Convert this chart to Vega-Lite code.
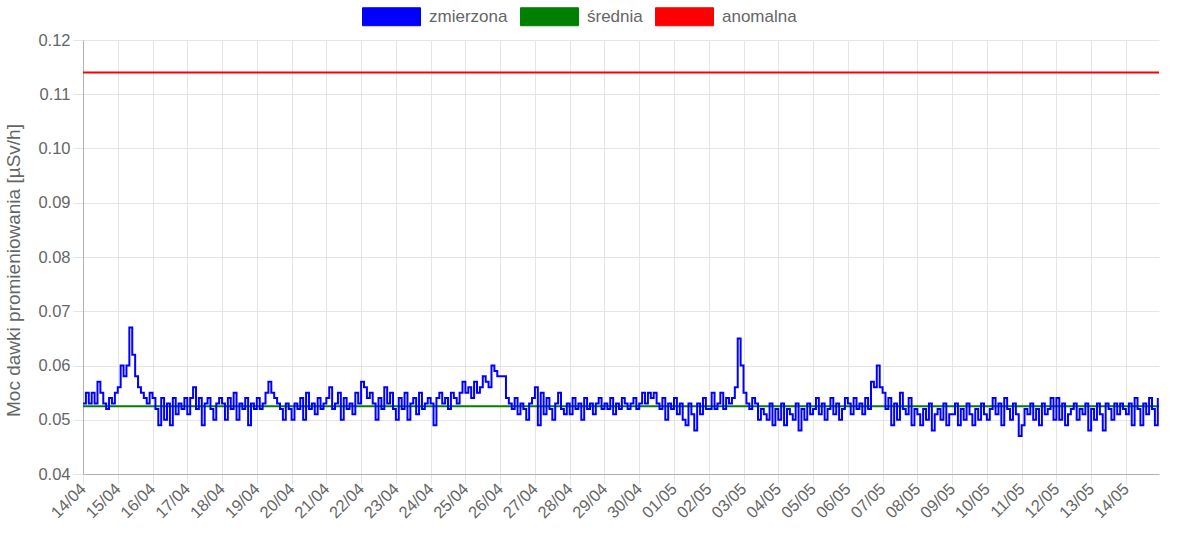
{
  "$schema": "https://vega.github.io/schema/vega-lite/v6.json",
  "width": 1076,
  "height": 434,
  "autosize": {"type": "none"},
  "padding": {"left": 83, "top": 40, "right": 27, "bottom": 64},
  "background": "#ffffff",
  "config": {
    "font": "Liberation Sans",
    "view": {"stroke": null},
    "axis": {
      "labelColor": "#666666",
      "labelFontSize": 16.5,
      "gridColor": "#e5e5e5",
      "tickColor": "#e5e5e5",
      "tickSize": 10,
      "domainColor": "#b0b0b0"
    }
  },
  "datasets": {
    "measured": [
      {"t":"2024-04-14T00:00:00Z","v":0.053},{"t":"2024-04-14T02:00:00Z","v":0.055},{"t":"2024-04-14T04:00:00Z","v":0.053},{"t":"2024-04-14T06:00:00Z","v":0.055},{"t":"2024-04-14T08:00:00Z","v":0.053},{"t":"2024-04-14T10:00:00Z","v":0.057},{"t":"2024-04-14T12:00:00Z","v":0.055},{"t":"2024-04-14T14:00:00Z","v":0.053},{"t":"2024-04-14T16:00:00Z","v":0.052},{"t":"2024-04-14T18:00:00Z","v":0.054},{"t":"2024-04-14T20:00:00Z","v":0.053},{"t":"2024-04-14T22:00:00Z","v":0.055},
      {"t":"2024-04-15T00:00:00Z","v":0.056},{"t":"2024-04-15T02:00:00Z","v":0.060},{"t":"2024-04-15T04:00:00Z","v":0.058},{"t":"2024-04-15T06:00:00Z","v":0.060},{"t":"2024-04-15T08:00:00Z","v":0.067},{"t":"2024-04-15T10:00:00Z","v":0.062},{"t":"2024-04-15T12:00:00Z","v":0.058},{"t":"2024-04-15T14:00:00Z","v":0.056},{"t":"2024-04-15T16:00:00Z","v":0.055},{"t":"2024-04-15T18:00:00Z","v":0.054},{"t":"2024-04-15T20:00:00Z","v":0.053},{"t":"2024-04-15T22:00:00Z","v":0.055},
      {"t":"2024-04-16T00:00:00Z","v":0.054},{"t":"2024-04-16T02:00:00Z","v":0.052},{"t":"2024-04-16T04:00:00Z","v":0.049},{"t":"2024-04-16T06:00:00Z","v":0.054},{"t":"2024-04-16T08:00:00Z","v":0.050},{"t":"2024-04-16T10:00:00Z","v":0.053},{"t":"2024-04-16T12:00:00Z","v":0.049},{"t":"2024-04-16T14:00:00Z","v":0.054},{"t":"2024-04-16T16:00:00Z","v":0.051},{"t":"2024-04-16T18:00:00Z","v":0.053},{"t":"2024-04-16T20:00:00Z","v":0.052},{"t":"2024-04-16T22:00:00Z","v":0.054},
      {"t":"2024-04-17T00:00:00Z","v":0.051},{"t":"2024-04-17T02:00:00Z","v":0.054},{"t":"2024-04-17T04:00:00Z","v":0.056},{"t":"2024-04-17T06:00:00Z","v":0.052},{"t":"2024-04-17T08:00:00Z","v":0.054},{"t":"2024-04-17T10:00:00Z","v":0.049},{"t":"2024-04-17T12:00:00Z","v":0.053},{"t":"2024-04-17T14:00:00Z","v":0.054},{"t":"2024-04-17T16:00:00Z","v":0.052},{"t":"2024-04-17T18:00:00Z","v":0.050},{"t":"2024-04-17T20:00:00Z","v":0.053},{"t":"2024-04-17T22:00:00Z","v":0.054},
      {"t":"2024-04-18T00:00:00Z","v":0.053},{"t":"2024-04-18T02:00:00Z","v":0.050},{"t":"2024-04-18T04:00:00Z","v":0.054},{"t":"2024-04-18T06:00:00Z","v":0.052},{"t":"2024-04-18T08:00:00Z","v":0.055},{"t":"2024-04-18T10:00:00Z","v":0.050},{"t":"2024-04-18T12:00:00Z","v":0.053},{"t":"2024-04-18T14:00:00Z","v":0.052},{"t":"2024-04-18T16:00:00Z","v":0.054},{"t":"2024-04-18T18:00:00Z","v":0.049},{"t":"2024-04-18T20:00:00Z","v":0.053},{"t":"2024-04-18T22:00:00Z","v":0.052},
      {"t":"2024-04-19T00:00:00Z","v":0.054},{"t":"2024-04-19T02:00:00Z","v":0.052},{"t":"2024-04-19T04:00:00Z","v":0.053},{"t":"2024-04-19T06:00:00Z","v":0.055},{"t":"2024-04-19T08:00:00Z","v":0.057},{"t":"2024-04-19T10:00:00Z","v":0.055},{"t":"2024-04-19T12:00:00Z","v":0.054},{"t":"2024-04-19T14:00:00Z","v":0.053},{"t":"2024-04-19T16:00:00Z","v":0.052},{"t":"2024-04-19T18:00:00Z","v":0.050},{"t":"2024-04-19T20:00:00Z","v":0.053},{"t":"2024-04-19T22:00:00Z","v":0.052},
      {"t":"2024-04-20T00:00:00Z","v":0.050},{"t":"2024-04-20T02:00:00Z","v":0.053},{"t":"2024-04-20T04:00:00Z","v":0.052},{"t":"2024-04-20T06:00:00Z","v":0.054},{"t":"2024-04-20T08:00:00Z","v":0.050},{"t":"2024-04-20T10:00:00Z","v":0.055},{"t":"2024-04-20T12:00:00Z","v":0.052},{"t":"2024-04-20T14:00:00Z","v":0.053},{"t":"2024-04-20T16:00:00Z","v":0.051},{"t":"2024-04-20T18:00:00Z","v":0.054},{"t":"2024-04-20T20:00:00Z","v":0.052},{"t":"2024-04-20T22:00:00Z","v":0.053},
      {"t":"2024-04-21T00:00:00Z","v":0.054},{"t":"2024-04-21T02:00:00Z","v":0.056},{"t":"2024-04-21T04:00:00Z","v":0.052},{"t":"2024-04-21T06:00:00Z","v":0.053},{"t":"2024-04-21T08:00:00Z","v":0.055},{"t":"2024-04-21T10:00:00Z","v":0.050},{"t":"2024-04-21T12:00:00Z","v":0.054},{"t":"2024-04-21T14:00:00Z","v":0.052},{"t":"2024-04-21T16:00:00Z","v":0.053},{"t":"2024-04-21T18:00:00Z","v":0.051},{"t":"2024-04-21T20:00:00Z","v":0.055},{"t":"2024-04-21T22:00:00Z","v":0.053},
      {"t":"2024-04-22T00:00:00Z","v":0.057},{"t":"2024-04-22T02:00:00Z","v":0.056},{"t":"2024-04-22T04:00:00Z","v":0.054},{"t":"2024-04-22T06:00:00Z","v":0.055},{"t":"2024-04-22T08:00:00Z","v":0.053},{"t":"2024-04-22T10:00:00Z","v":0.050},{"t":"2024-04-22T12:00:00Z","v":0.054},{"t":"2024-04-22T14:00:00Z","v":0.052},{"t":"2024-04-22T16:00:00Z","v":0.056},{"t":"2024-04-22T18:00:00Z","v":0.053},{"t":"2024-04-22T20:00:00Z","v":0.055},{"t":"2024-04-22T22:00:00Z","v":0.052},
      {"t":"2024-04-23T00:00:00Z","v":0.050},{"t":"2024-04-23T02:00:00Z","v":0.054},{"t":"2024-04-23T04:00:00Z","v":0.052},{"t":"2024-04-23T06:00:00Z","v":0.055},{"t":"2024-04-23T08:00:00Z","v":0.050},{"t":"2024-04-23T10:00:00Z","v":0.053},{"t":"2024-04-23T12:00:00Z","v":0.054},{"t":"2024-04-23T14:00:00Z","v":0.051},{"t":"2024-04-23T16:00:00Z","v":0.055},{"t":"2024-04-23T18:00:00Z","v":0.052},{"t":"2024-04-23T20:00:00Z","v":0.053},{"t":"2024-04-23T22:00:00Z","v":0.054},
      {"t":"2024-04-24T00:00:00Z","v":0.053},{"t":"2024-04-24T02:00:00Z","v":0.049},{"t":"2024-04-24T04:00:00Z","v":0.054},{"t":"2024-04-24T06:00:00Z","v":0.055},{"t":"2024-04-24T08:00:00Z","v":0.053},{"t":"2024-04-24T10:00:00Z","v":0.054},{"t":"2024-04-24T12:00:00Z","v":0.052},{"t":"2024-04-24T14:00:00Z","v":0.055},{"t":"2024-04-24T16:00:00Z","v":0.054},{"t":"2024-04-24T18:00:00Z","v":0.053},{"t":"2024-04-24T20:00:00Z","v":0.055},{"t":"2024-04-24T22:00:00Z","v":0.057},
      {"t":"2024-04-25T00:00:00Z","v":0.055},{"t":"2024-04-25T02:00:00Z","v":0.056},{"t":"2024-04-25T04:00:00Z","v":0.054},{"t":"2024-04-25T06:00:00Z","v":0.057},{"t":"2024-04-25T08:00:00Z","v":0.055},{"t":"2024-04-25T10:00:00Z","v":0.056},{"t":"2024-04-25T12:00:00Z","v":0.058},{"t":"2024-04-25T14:00:00Z","v":0.057},{"t":"2024-04-25T16:00:00Z","v":0.056},{"t":"2024-04-25T18:00:00Z","v":0.060},{"t":"2024-04-25T20:00:00Z","v":0.059},{"t":"2024-04-25T22:00:00Z","v":0.058},
      {"t":"2024-04-26T00:00:00Z","v":0.058},{"t":"2024-04-26T02:00:00Z","v":0.058},{"t":"2024-04-26T04:00:00Z","v":0.054},{"t":"2024-04-26T06:00:00Z","v":0.053},{"t":"2024-04-26T08:00:00Z","v":0.052},{"t":"2024-04-26T10:00:00Z","v":0.054},{"t":"2024-04-26T12:00:00Z","v":0.051},{"t":"2024-04-26T14:00:00Z","v":0.053},{"t":"2024-04-26T16:00:00Z","v":0.052},{"t":"2024-04-26T18:00:00Z","v":0.050},{"t":"2024-04-26T20:00:00Z","v":0.053},{"t":"2024-04-26T22:00:00Z","v":0.054},
      {"t":"2024-04-27T00:00:00Z","v":0.056},{"t":"2024-04-27T02:00:00Z","v":0.049},{"t":"2024-04-27T04:00:00Z","v":0.055},{"t":"2024-04-27T06:00:00Z","v":0.051},{"t":"2024-04-27T08:00:00Z","v":0.054},{"t":"2024-04-27T10:00:00Z","v":0.052},{"t":"2024-04-27T12:00:00Z","v":0.050},{"t":"2024-04-27T14:00:00Z","v":0.053},{"t":"2024-04-27T16:00:00Z","v":0.055},{"t":"2024-04-27T18:00:00Z","v":0.052},{"t":"2024-04-27T20:00:00Z","v":0.051},{"t":"2024-04-27T22:00:00Z","v":0.053},
      {"t":"2024-04-28T00:00:00Z","v":0.051},{"t":"2024-04-28T02:00:00Z","v":0.054},{"t":"2024-04-28T04:00:00Z","v":0.052},{"t":"2024-04-28T06:00:00Z","v":0.053},{"t":"2024-04-28T08:00:00Z","v":0.050},{"t":"2024-04-28T10:00:00Z","v":0.054},{"t":"2024-04-28T12:00:00Z","v":0.052},{"t":"2024-04-28T14:00:00Z","v":0.053},{"t":"2024-04-28T16:00:00Z","v":0.051},{"t":"2024-04-28T18:00:00Z","v":0.053},{"t":"2024-04-28T20:00:00Z","v":0.054},{"t":"2024-04-28T22:00:00Z","v":0.052},
      {"t":"2024-04-29T00:00:00Z","v":0.053},{"t":"2024-04-29T02:00:00Z","v":0.052},{"t":"2024-04-29T04:00:00Z","v":0.054},{"t":"2024-04-29T06:00:00Z","v":0.051},{"t":"2024-04-29T08:00:00Z","v":0.053},{"t":"2024-04-29T10:00:00Z","v":0.052},{"t":"2024-04-29T12:00:00Z","v":0.054},{"t":"2024-04-29T14:00:00Z","v":0.053},{"t":"2024-04-29T16:00:00Z","v":0.052},{"t":"2024-04-29T18:00:00Z","v":0.053},{"t":"2024-04-29T20:00:00Z","v":0.054},{"t":"2024-04-29T22:00:00Z","v":0.052},
      {"t":"2024-04-30T00:00:00Z","v":0.053},{"t":"2024-04-30T02:00:00Z","v":0.055},{"t":"2024-04-30T04:00:00Z","v":0.053},{"t":"2024-04-30T06:00:00Z","v":0.055},{"t":"2024-04-30T08:00:00Z","v":0.054},{"t":"2024-04-30T10:00:00Z","v":0.055},{"t":"2024-04-30T12:00:00Z","v":0.053},{"t":"2024-04-30T14:00:00Z","v":0.052},{"t":"2024-04-30T16:00:00Z","v":0.054},{"t":"2024-04-30T18:00:00Z","v":0.050},{"t":"2024-04-30T20:00:00Z","v":0.053},{"t":"2024-04-30T22:00:00Z","v":0.052},
      {"t":"2024-05-01T00:00:00Z","v":0.054},{"t":"2024-05-01T02:00:00Z","v":0.051},{"t":"2024-05-01T04:00:00Z","v":0.053},{"t":"2024-05-01T06:00:00Z","v":0.050},{"t":"2024-05-01T08:00:00Z","v":0.049},{"t":"2024-05-01T10:00:00Z","v":0.053},{"t":"2024-05-01T12:00:00Z","v":0.051},{"t":"2024-05-01T14:00:00Z","v":0.048},{"t":"2024-05-01T16:00:00Z","v":0.053},{"t":"2024-05-01T18:00:00Z","v":0.051},{"t":"2024-05-01T20:00:00Z","v":0.054},{"t":"2024-05-01T22:00:00Z","v":0.052},
      {"t":"2024-05-02T00:00:00Z","v":0.052},{"t":"2024-05-02T02:00:00Z","v":0.055},{"t":"2024-05-02T04:00:00Z","v":0.052},{"t":"2024-05-02T06:00:00Z","v":0.053},{"t":"2024-05-02T08:00:00Z","v":0.055},{"t":"2024-05-02T10:00:00Z","v":0.052},{"t":"2024-05-02T12:00:00Z","v":0.054},{"t":"2024-05-02T14:00:00Z","v":0.053},{"t":"2024-05-02T16:00:00Z","v":0.054},{"t":"2024-05-02T18:00:00Z","v":0.056},{"t":"2024-05-02T20:00:00Z","v":0.065},{"t":"2024-05-02T22:00:00Z","v":0.060},
      {"t":"2024-05-03T00:00:00Z","v":0.055},{"t":"2024-05-03T02:00:00Z","v":0.053},{"t":"2024-05-03T04:00:00Z","v":0.052},{"t":"2024-05-03T06:00:00Z","v":0.054},{"t":"2024-05-03T08:00:00Z","v":0.053},{"t":"2024-05-03T10:00:00Z","v":0.050},{"t":"2024-05-03T12:00:00Z","v":0.052},{"t":"2024-05-03T14:00:00Z","v":0.051},{"t":"2024-05-03T16:00:00Z","v":0.050},{"t":"2024-05-03T18:00:00Z","v":0.053},{"t":"2024-05-03T20:00:00Z","v":0.049},{"t":"2024-05-03T22:00:00Z","v":0.052},
      {"t":"2024-05-04T00:00:00Z","v":0.050},{"t":"2024-05-04T02:00:00Z","v":0.053},{"t":"2024-05-04T04:00:00Z","v":0.049},{"t":"2024-05-04T06:00:00Z","v":0.052},{"t":"2024-05-04T08:00:00Z","v":0.051},{"t":"2024-05-04T10:00:00Z","v":0.050},{"t":"2024-05-04T12:00:00Z","v":0.053},{"t":"2024-05-04T14:00:00Z","v":0.048},{"t":"2024-05-04T16:00:00Z","v":0.052},{"t":"2024-05-04T18:00:00Z","v":0.050},{"t":"2024-05-04T20:00:00Z","v":0.053},{"t":"2024-05-04T22:00:00Z","v":0.051},
      {"t":"2024-05-05T00:00:00Z","v":0.052},{"t":"2024-05-05T02:00:00Z","v":0.054},{"t":"2024-05-05T04:00:00Z","v":0.051},{"t":"2024-05-05T06:00:00Z","v":0.053},{"t":"2024-05-05T08:00:00Z","v":0.050},{"t":"2024-05-05T10:00:00Z","v":0.052},{"t":"2024-05-05T12:00:00Z","v":0.054},{"t":"2024-05-05T14:00:00Z","v":0.051},{"t":"2024-05-05T16:00:00Z","v":0.053},{"t":"2024-05-05T18:00:00Z","v":0.050},{"t":"2024-05-05T20:00:00Z","v":0.052},{"t":"2024-05-05T22:00:00Z","v":0.054},
      {"t":"2024-05-06T00:00:00Z","v":0.053},{"t":"2024-05-06T02:00:00Z","v":0.051},{"t":"2024-05-06T04:00:00Z","v":0.054},{"t":"2024-05-06T06:00:00Z","v":0.052},{"t":"2024-05-06T08:00:00Z","v":0.053},{"t":"2024-05-06T10:00:00Z","v":0.051},{"t":"2024-05-06T12:00:00Z","v":0.054},{"t":"2024-05-06T14:00:00Z","v":0.052},{"t":"2024-05-06T16:00:00Z","v":0.057},{"t":"2024-05-06T18:00:00Z","v":0.056},{"t":"2024-05-06T20:00:00Z","v":0.060},{"t":"2024-05-06T22:00:00Z","v":0.056},
      {"t":"2024-05-07T00:00:00Z","v":0.055},{"t":"2024-05-07T02:00:00Z","v":0.052},{"t":"2024-05-07T04:00:00Z","v":0.054},{"t":"2024-05-07T06:00:00Z","v":0.049},{"t":"2024-05-07T08:00:00Z","v":0.053},{"t":"2024-05-07T10:00:00Z","v":0.050},{"t":"2024-05-07T12:00:00Z","v":0.055},{"t":"2024-05-07T14:00:00Z","v":0.052},{"t":"2024-05-07T16:00:00Z","v":0.051},{"t":"2024-05-07T18:00:00Z","v":0.054},{"t":"2024-05-07T20:00:00Z","v":0.049},{"t":"2024-05-07T22:00:00Z","v":0.052},
      {"t":"2024-05-08T00:00:00Z","v":0.051},{"t":"2024-05-08T02:00:00Z","v":0.049},{"t":"2024-05-08T04:00:00Z","v":0.052},{"t":"2024-05-08T06:00:00Z","v":0.050},{"t":"2024-05-08T08:00:00Z","v":0.053},{"t":"2024-05-08T10:00:00Z","v":0.048},{"t":"2024-05-08T12:00:00Z","v":0.051},{"t":"2024-05-08T14:00:00Z","v":0.052},{"t":"2024-05-08T16:00:00Z","v":0.050},{"t":"2024-05-08T18:00:00Z","v":0.053},{"t":"2024-05-08T20:00:00Z","v":0.049},{"t":"2024-05-08T22:00:00Z","v":0.051},
      {"t":"2024-05-09T00:00:00Z","v":0.051},{"t":"2024-05-09T02:00:00Z","v":0.053},{"t":"2024-05-09T04:00:00Z","v":0.049},{"t":"2024-05-09T06:00:00Z","v":0.052},{"t":"2024-05-09T08:00:00Z","v":0.050},{"t":"2024-05-09T10:00:00Z","v":0.053},{"t":"2024-05-09T12:00:00Z","v":0.051},{"t":"2024-05-09T14:00:00Z","v":0.049},{"t":"2024-05-09T16:00:00Z","v":0.052},{"t":"2024-05-09T18:00:00Z","v":0.050},{"t":"2024-05-09T20:00:00Z","v":0.053},{"t":"2024-05-09T22:00:00Z","v":0.051},
      {"t":"2024-05-10T00:00:00Z","v":0.050},{"t":"2024-05-10T02:00:00Z","v":0.052},{"t":"2024-05-10T04:00:00Z","v":0.054},{"t":"2024-05-10T06:00:00Z","v":0.051},{"t":"2024-05-10T08:00:00Z","v":0.053},{"t":"2024-05-10T10:00:00Z","v":0.049},{"t":"2024-05-10T12:00:00Z","v":0.054},{"t":"2024-05-10T14:00:00Z","v":0.052},{"t":"2024-05-10T16:00:00Z","v":0.050},{"t":"2024-05-10T18:00:00Z","v":0.053},{"t":"2024-05-10T20:00:00Z","v":0.051},{"t":"2024-05-10T22:00:00Z","v":0.047},
      {"t":"2024-05-11T00:00:00Z","v":0.049},{"t":"2024-05-11T02:00:00Z","v":0.052},{"t":"2024-05-11T04:00:00Z","v":0.051},{"t":"2024-05-11T06:00:00Z","v":0.053},{"t":"2024-05-11T08:00:00Z","v":0.050},{"t":"2024-05-11T10:00:00Z","v":0.052},{"t":"2024-05-11T12:00:00Z","v":0.049},{"t":"2024-05-11T14:00:00Z","v":0.053},{"t":"2024-05-11T16:00:00Z","v":0.051},{"t":"2024-05-11T18:00:00Z","v":0.052},{"t":"2024-05-11T20:00:00Z","v":0.054},{"t":"2024-05-11T22:00:00Z","v":0.050},
      {"t":"2024-05-12T00:00:00Z","v":0.054},{"t":"2024-05-12T02:00:00Z","v":0.050},{"t":"2024-05-12T04:00:00Z","v":0.053},{"t":"2024-05-12T06:00:00Z","v":0.049},{"t":"2024-05-12T08:00:00Z","v":0.051},{"t":"2024-05-12T10:00:00Z","v":0.052},{"t":"2024-05-12T12:00:00Z","v":0.053},{"t":"2024-05-12T14:00:00Z","v":0.050},{"t":"2024-05-12T16:00:00Z","v":0.052},{"t":"2024-05-12T18:00:00Z","v":0.051},{"t":"2024-05-12T20:00:00Z","v":0.053},{"t":"2024-05-12T22:00:00Z","v":0.048},
      {"t":"2024-05-13T00:00:00Z","v":0.052},{"t":"2024-05-13T02:00:00Z","v":0.050},{"t":"2024-05-13T04:00:00Z","v":0.053},{"t":"2024-05-13T06:00:00Z","v":0.051},{"t":"2024-05-13T08:00:00Z","v":0.048},{"t":"2024-05-13T10:00:00Z","v":0.053},{"t":"2024-05-13T12:00:00Z","v":0.052},{"t":"2024-05-13T14:00:00Z","v":0.050},{"t":"2024-05-13T16:00:00Z","v":0.053},{"t":"2024-05-13T18:00:00Z","v":0.051},{"t":"2024-05-13T20:00:00Z","v":0.053},{"t":"2024-05-13T22:00:00Z","v":0.052},
      {"t":"2024-05-14T00:00:00Z","v":0.051},{"t":"2024-05-14T02:00:00Z","v":0.053},{"t":"2024-05-14T04:00:00Z","v":0.049},{"t":"2024-05-14T06:00:00Z","v":0.054},{"t":"2024-05-14T08:00:00Z","v":0.052},{"t":"2024-05-14T10:00:00Z","v":0.049},{"t":"2024-05-14T12:00:00Z","v":0.053},{"t":"2024-05-14T14:00:00Z","v":0.051},{"t":"2024-05-14T16:00:00Z","v":0.054},{"t":"2024-05-14T18:00:00Z","v":0.052},{"t":"2024-05-14T20:00:00Z","v":0.049},{"t":"2024-05-14T22:00:00Z","v":0.054}
    ],
    "reference": [
      {"series": "średnia", "t": "2024-04-14T00:00:00Z", "v": 0.0525},
      {"series": "średnia", "t": "2024-05-14T22:50:00Z", "v": 0.0525},
      {"series": "anomalna", "t": "2024-04-14T00:00:00Z", "v": 0.114},
      {"series": "anomalna", "t": "2024-05-14T22:50:00Z", "v": 0.114}
    ]
  },
  "encoding": {
    "x": {
      "field": "t",
      "type": "temporal",
      "title": null,
      "scale": {
        "type": "utc",
        "nice": false,
        "domain": [
          {"year": 2024, "month": 4, "date": 14, "hours": 0, "utc": true},
          {"year": 2024, "month": 5, "date": 14, "hours": 22, "minutes": 50, "utc": true}
        ]
      },
      "axis": {
        "labelExpr": "utcFormat(datum.value, '%d/%m')",
        "tickCount": {"interval": "day", "step": 1},
        "labelAngle": -45,
        "labelAlign": "right",
        "labelBaseline": "middle",
        "labelPadding": 2,
        "labelOverlap": false,
        "labelFlush": false,
        "grid": true
      }
    },
    "y": {
      "field": "v",
      "type": "quantitative",
      "title": "Moc dawki promieniowania [µSv/h]",
      "scale": {"domain": [0.04, 0.12], "nice": false, "zero": false},
      "axis": {
        "values": [0.04, 0.05, 0.06, 0.07, 0.08, 0.09, 0.1, 0.11, 0.12],
        "format": ".2f",
        "labelPadding": 3,
        "titleColor": "#666666",
        "titleFontSize": 19,
        "titleFontWeight": "normal",
        "titleX": -70,
        "titleY": 230,
        "titleAngle": -90,
        "titleAlign": "center",
        "titleBaseline": "middle",
        "grid": true
      }
    }
  },
  "layer": [
    {
      "data": {"name": "reference"},
      "mark": {"type": "line", "strokeWidth": 2},
      "encoding": {
        "detail": {"field": "series"},
        "color": {
          "field": "series",
          "type": "nominal",
          "scale": {
            "domain": ["zmierzona", "średnia", "anomalna"],
            "range": ["#0000ff", "#008000", "#ff0000"]
          },
          "legend": {
            "title": null,
            "orient": "none",
            "direction": "horizontal",
            "legendX": 279,
            "legendY": -53,
            "symbolType": "M-1,-0.31H1V0.31H-1Z",
            "symbolSize": 3364,
            "symbolStrokeWidth": 1,
            "labelFontSize": 17,
            "labelColor": "#666666",
            "labelOffset": 8,
            "columnPadding": 10,
            "encode": {
              "symbols": {
                "update": {
                  "fill": {"scale": "color", "field": "value"},
                  "fillOpacity": {"value": 1}
                }
              }
            }
          }
        }
      }
    },
    {
      "data": {"name": "measured"},
      "mark": {"type": "line", "interpolate": "step-after", "strokeWidth": 2},
      "encoding": {
        "color": {"datum": "zmierzona", "type": "nominal"}
      }
    }
  ]
}
